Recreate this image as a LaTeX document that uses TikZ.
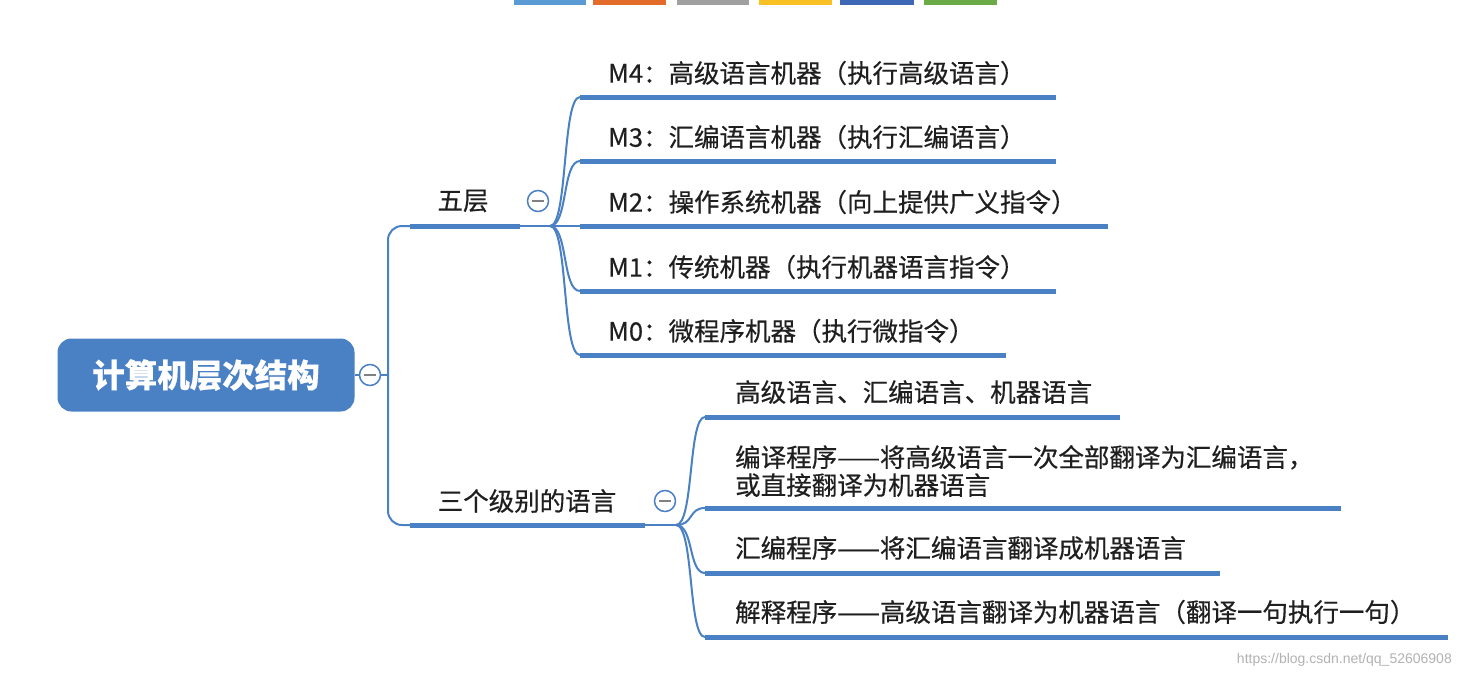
\documentclass[tikz,border=0pt]{standalone}
\usepackage{fontspec}
\setmainfont{Noto Sans CJK SC}[FakeBold=0.4]
\newfontfamily\wm{Liberation Sans}
\definecolor{lb}{HTML}{4A80C4}
\definecolor{tb1}{HTML}{5B9BD5}
\definecolor{tb2}{HTML}{E46C2A}
\definecolor{tb3}{HTML}{A0A0A0}
\definecolor{tb4}{HTML}{F9C124}
\definecolor{tb5}{HTML}{3E67B5}
\definecolor{tb6}{HTML}{6AAB46}
\begin{document}
\begin{tikzpicture}[x=1pt,y=-1pt,
  bar/.style={draw=lb,line width=5pt},
  thin/.style={draw=lb,line width=2pt},
  lbl/.style={anchor=west,inner sep=0pt,font=\fontsize{25.5}{31}\selectfont,text=black!88},
  coll/.style={circle,draw=lb,line width=1.5pt,fill=white,minimum size=21pt,inner sep=0pt}]
\useasboundingbox (0,0) rectangle (1461,678);
\fill[white] (0,0) rectangle (1461,678);
% top toolbar
\fill[tb1] (514,0) rectangle (586,5);
\fill[tb2] (593,0) rectangle (666,5);
\fill[tb3] (677,0) rectangle (749,5);
\fill[tb4] (759,0) rectangle (832,5);
\fill[tb5] (840,0) rectangle (914,5);
\fill[tb6] (924,0) rectangle (997,5);
% root
\node[fill=lb,rounded corners=14pt,minimum width=297pt,minimum height=73pt,text=white,font=\fontsize{32.5}{38}\selectfont\bfseries] (root) at (206,375) {计算机层次结构};
\node[coll] (c0) at (370,375) {};
\draw[thin] (root.east) -- (c0.west);
\draw[line width=2pt,draw=black!50] (364,375) -- (376,375);
\coordinate (t1) at (410,226);
\coordinate (t2) at (410,525);
\draw[thin,rounded corners=14pt] (t1) -- (388,226) -- (388,525) -- (t2);
\draw[thin] (c0.east) -- (388,375);
% five layers
\coordinate (a1) at (410,226); \coordinate (a2) at (520,226);
\draw[bar] (a1) -- (a2);
\node[lbl,anchor=center] (wu) at (463,201) {五层};
\node[coll] (c1) at (538,201) {};
\draw[line width=2pt,draw=black!50] (532,201) -- (544,201);
\coordinate (h1) at (550,226);
\draw[thin] (a2) -- (h1);
\foreach \y/\e/\t [count=\i] in {97/1056/{M4：高级语言机器（执行高级语言）},161/1056/{M3：汇编语言机器（执行汇编语言）},226/1108/{M2：操作系统机器（向上提供广义指令）},291/1056/{M1：传统机器（执行机器语言指令）},355/1006/{M0：微程序机器（执行微指令）}}{
  \coordinate (m\i s) at (580,\y); \coordinate (m\i e) at (\e,\y);
  \draw[bar] (m\i s) -- (m\i e);
  \draw[thin] (h1) .. controls (568,226) and (562,\y) .. (m\i s);
  \node[lbl] (m\i) at (608,\y-24) {\t};
}
% three languages
\coordinate (b1) at (410,525); \coordinate (b2) at (645,525);
\draw[bar] (b1) -- (b2);
\node[lbl,anchor=center] (san) at (527,501) {三个级别的语言};
\node[coll] (c2) at (665,501) {};
\draw[line width=2pt,draw=black!50] (659,501) -- (671,501);
\coordinate (h2) at (676,525);
\draw[thin] (b2) -- (h2);
\foreach \y/\e [count=\i] in {417/1120,508/1341,573/1220,637/1448}{
  \coordinate (l\i s) at (705,\y); \coordinate (l\i e) at (\e,\y);
  \draw[bar] (l\i s) -- (l\i e);
  \draw[thin] (h2) .. controls (694,525) and (688,\y) .. (l\i s);
}
\node[lbl] (l1) at (735,392) {高级语言、汇编语言、机器语言};
\node[lbl,align=left,font=\fontsize{25.5}{28}\selectfont] (l2) at (735,471) {编译程序——将高级语言一次全部翻译为汇编语言，\\或直接翻译为机器语言};
\node[lbl] (l3) at (735,548) {汇编程序——将汇编语言翻译成机器语言};
\node[lbl] (l4) at (735,612) {解释程序——高级语言翻译为机器语言（翻译一句执行一句）};
\node[anchor=east,inner sep=0pt,font=\wm\fontsize{14}{16}\selectfont,text=black!30] (wmk) at (1452,660) {https://blog.csdn.net/qq\_52606908};
\end{tikzpicture}
\end{document}
